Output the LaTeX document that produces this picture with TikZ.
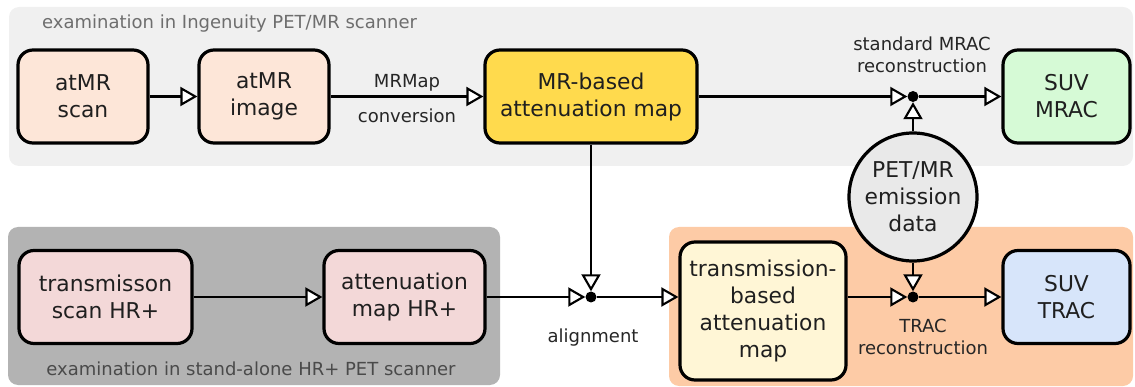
\documentclass[tikz,border=0pt]{standalone}
\usepackage{fontspec}
\setmainfont{DejaVu Sans}
\usetikzlibrary{arrows.meta}
\definecolor{panelA}{HTML}{F0F0F0}
\definecolor{panelB}{HTML}{B3B3B3}
\definecolor{panelC}{HTML}{FDCBA6}
\definecolor{peach}{HTML}{FDE6D8}
\definecolor{gold}{HTML}{FFDA4D}
\definecolor{mint}{HTML}{D6FAD6}
\definecolor{rose}{HTML}{F3D8D8}
\definecolor{cream}{HTML}{FFF6D6}
\definecolor{skyb}{HTML}{D7E5FA}
\definecolor{circg}{HTML}{E9E9E9}
\definecolor{ttlA}{HTML}{6E6E6E}
\definecolor{ttlB}{HTML}{4A4A4A}
\begin{document}
\begin{tikzpicture}[x=1pt,y=-1pt,
 box/.style={draw=black, line width=3.2pt, rounded corners=15pt, align=center,
   font=\fontsize{21.8}{27}\selectfont, text=black!88, inner sep=0pt},
 panel/.style={rounded corners=10pt},
 lbl/.style={font=\fontsize{18}{22}\selectfont, text=black!85, align=center, inner sep=0pt},
 ttl/.style={font=\fontsize{18}{22}\selectfont, inner sep=0pt},
 arr/.style={line width=2.1pt, -{Triangle[length=17pt,width=19pt,fill=white]}},
 dot/.style={circle, fill=black, minimum size=11pt, inner sep=0pt}]
\useasboundingbox (0,0) rectangle (1135,387);
% panels
\fill[panelA, panel] (9,7) rectangle (1133,166);
\fill[panelB, panel] (8,227) rectangle (500,385);
\fill[panelC, panel] (669,227) rectangle (1133,386);
\node[ttl, text=ttlA, anchor=base west] (t1) at (42,29) {examination in Ingenuity PET/MR scanner};
\node[ttl, text=ttlB, anchor=base] (t2) at (251,375) {examination in stand-alone HR+ PET scanner};
% top row
\node[box, fill=peach, minimum width=130pt, minimum height=93pt] (scan) at (83,96.5) {atMR\\scan};
\node[box, fill=peach, minimum width=130pt, minimum height=93pt] (image) at (264,96.5) {atMR\\image};
\node[box, fill=gold, minimum width=212pt, minimum height=93pt] (mrmap) at (591,96.5) {MR-based\\attenuation map};
\node[box, fill=mint, minimum width=127pt, minimum height=93pt] (suvm) at (1066.5,96.5) {SUV\\MRAC};
% circle
\node[box, circle, fill=circg, minimum size=128pt] (circ) at (913,197) {PET/MR\\emission\\data};
% bottom row
\node[box, fill=rose, minimum width=173pt, minimum height=93pt] (trans) at (105.5,297) {transmisson\\scan HR+};
\node[box, fill=rose, minimum width=161pt, minimum height=93pt] (atthr) at (404.5,297) {attenuation\\map HR+};
\node[box, fill=cream, minimum width=166pt, minimum height=138pt] (tbased) at (763,311) {transmission-\\based\\attenuation\\map};
\node[box, fill=skyb, minimum width=127pt, minimum height=93pt] (suvt) at (1066.5,297) {SUV\\TRAC};
% junctions
\node[dot] (J1) at (913,96.5) {};
\node[dot] (J2) at (913,297) {};
\node[dot] (J3) at (591,297) {};
% labels
\node[lbl] (l1) at (922,55) {standard MRAC\\reconstruction};
\node[lbl] (l2) at (923,336.5) {TRAC\\reconstruction};
\node[lbl] (l3) at (593,337.5) {alignment};
% connectors
\draw[arr] (scan) -- (image);
\draw[arr] (image) -- node[lbl, above=4pt] {MRMap} node[lbl, below=11pt] {conversion} (mrmap);
\draw[arr] (mrmap) -- (J1);
\draw[arr] (J1) -- (suvm);
\draw[arr] (circ) -- (J1);
\draw[arr] (circ) -- (J2);
\draw[arr] (tbased.east |- J2) -- (J2);
\draw[arr] (J2) -- (suvt);
\draw[arr] (trans) -- (atthr);
\draw[arr] (atthr) -- (J3);
\draw[arr] (mrmap) -- (J3);
\draw[arr] (J3) -- (J3 -| tbased.west);
\end{tikzpicture}
\end{document}
